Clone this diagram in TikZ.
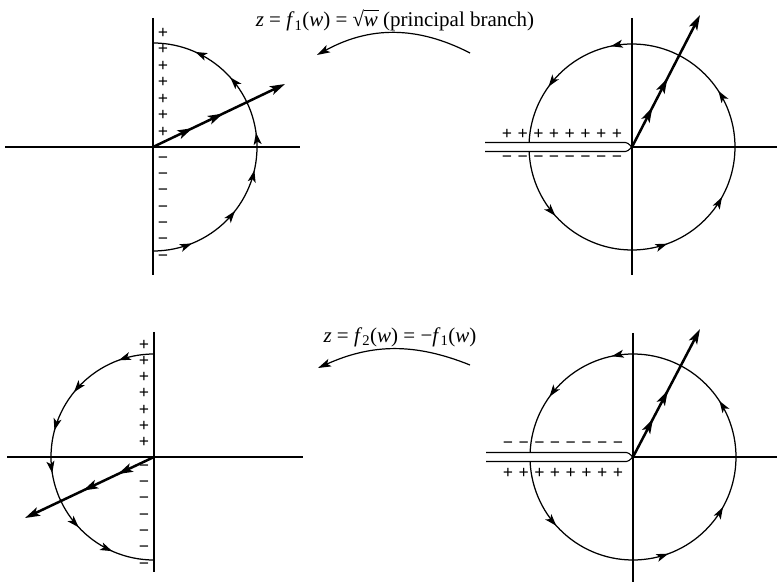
\documentclass[tikz,border=0pt]{standalone}
\usepackage{fontspec}
\setmainfont{Liberation Serif}
\usetikzlibrary{arrows.meta,decorations.markings}
\newcommand\txtsqrt[1]{\mbox{\setbox1=\hbox{√}\setbox0=\hbox{#1}\copy1\kern-0.3pt\rlap{\rule[\dimexpr\ht1-0.9pt\relax]{\dimexpr\wd0+1pt\relax}{0.9pt}}\box0}}
\tikzset{
  axisline/.style={line width=1.1pt},
  contour/.style={line width=1.25pt},
  rayline/.style={line width=2.5pt,-{Stealth[length=15pt,width=9pt,inset=3.5pt]}},
  amark/.style={postaction={decorate,decoration={markings,mark=at position #1 with {\arrow{Stealth[length=12pt,width=8pt,inset=3pt]}}}}},
  rmark/.style={postaction={decorate,decoration={markings,mark=at position #1 with {\arrow{Stealth[length=15pt,width=9pt,inset=3.5pt]}}}}},
  sign/.style={inner sep=0pt,font=\fontsize{18}{18}\selectfont\bfseries},
  lbl/.style={inner sep=0pt,text height=15pt,text depth=5pt,font=\fontsize{21}{25}\selectfont},
  maparrow/.style={line width=1.2pt,-{Stealth[length=13pt,width=8pt,inset=3pt]}}
}
\begin{document}
\begin{tikzpicture}[x=1pt,y=1pt]
\useasboundingbox (0,0) rectangle (777,582);
% centres
\coordinate (A) at (153,435);
\coordinate (B) at (632,435);
\coordinate (C) at (154,125);
\coordinate (D) at (633,125);
% ----- top left -----
\coordinate (Ah1) at (5,435); \coordinate (Ah2) at (300,435);
\coordinate (Av1) at (153,564); \coordinate (Av2) at (153,307);
\draw[axisline] (Ah1) -- (Ah2);
\draw[axisline] (Av1) -- (Av2);
\draw[contour,amark=0.122,amark=0.289,amark=0.428,amark=0.544,amark=0.733,amark=0.867]
  (A) ++(-90:104) arc[start angle=-90,end angle=90,radius=104];
\coordinate (Ar) at (285,498);
\draw[rayline,rmark=0.30,rmark=0.53] (A) -- (Ar);
\foreach \k in {0,...,6}{
  \node[sign] (Ap\k) at (163,549-16.5*\k) {+};
  \node[sign] (Am\k) at (163,422-16.3*\k) {−};
}
% ----- top right -----
\coordinate (Bh2) at (777,435);
\coordinate (Bv1) at (632,564); \coordinate (Bv2) at (632,307);
\draw[axisline] (B) -- (Bh2);
\draw[axisline] (Bv1) -- (Bv2);
\coordinate (Bk1) at (485,439.5); \coordinate (Bk2) at (627,439.5);
\coordinate (Bk3) at (627,430.5); \coordinate (Bk4) at (485,430.5);
\draw[axisline,rounded corners=1.5pt] (Bk1) -- (Bk2) -- (B) -- (Bk3) -- (Bk4);
\draw[contour,amark=0.111,amark=0.303,amark=0.418,amark=0.593,amark=0.787,amark=0.906]
  (B) ++(-177.5:103) arc[start angle=-177.5,end angle=177.5,radius=103];
\coordinate (Br) at (700,567);
\draw[rayline,rmark=0.30,rmark=0.52] (B) -- (Br);
\foreach \k in {0,...,7}{
  \node[sign] (Bp\k) at (507+15.7*\k,448) {+};
  \node[sign] (Bm\k) at (507+15.7*\k,423) {−};
}
% ----- bottom left -----
\coordinate (Ch1) at (7,125); \coordinate (Ch2) at (303,125);
\coordinate (Cv1) at (154,250); \coordinate (Cv2) at (154,10);
\draw[axisline] (Ch1) -- (Ch2);
\draw[axisline] (Cv1) -- (Cv2);
\draw[contour,amark=0.111,amark=0.283,amark=0.417,amark=0.55,amark=0.739,amark=0.867]
  (C) ++(90:103) arc[start angle=90,end angle=270,radius=103];
\coordinate (Cr) at (25,64);
\draw[rayline,rmark=0.28,rmark=0.55] (C) -- (Cr);
\foreach \k in {0,...,6}{
  \node[sign] (Cp\k) at (144,237-16.3*\k) {+};
  \node[sign] (Cm\k) at (144,114-16.3*\k) {−};
}
% ----- bottom right -----
\coordinate (Dh2) at (777,125);
\coordinate (Dv1) at (633,249); \coordinate (Dv2) at (633,0);
\draw[axisline] (D) -- (Dh2);
\draw[axisline] (Dv1) -- (Dv2);
\coordinate (Dk1) at (486,129.5); \coordinate (Dk2) at (628,129.5);
\coordinate (Dk3) at (628,120.5); \coordinate (Dk4) at (486,120.5);
\draw[axisline,rounded corners=1.5pt] (Dk1) -- (Dk2) -- (D) -- (Dk3) -- (Dk4);
\draw[contour,amark=0.111,amark=0.303,amark=0.418,amark=0.593,amark=0.787,amark=0.906]
  (D) ++(-177.5:103) arc[start angle=-177.5,end angle=177.5,radius=103];
\coordinate (Dr) at (700,253);
\draw[rayline,rmark=0.30,rmark=0.52] (D) -- (Dr);
\foreach \k in {0,...,7}{
  \node[sign] (Dm\k) at (508+15.7*\k,137) {−};
  \node[sign] (Dp\k) at (508+15.7*\k,109) {+};
}
% ----- labels and mapping arrows -----
\node[lbl,anchor=base] (L1) at (395,555) {\textit{z} = \textit{f}\textsubscript{1}(\textit{w}) = \txtsqrt{\textit{w}} (principal branch)};
\coordinate (M1s) at (470,529); \coordinate (M1e) at (317,527);
\draw[maparrow] (M1s) to[bend right=28] (M1e);
\node[lbl,anchor=base] (L2) at (400,240) {\textit{z} = \textit{f}\textsubscript{2}(\textit{w}) = −\textit{f}\textsubscript{1}(\textit{w})};
\coordinate (M2s) at (470,217); \coordinate (M2e) at (318,214);
\draw[maparrow] (M2s) to[bend right=23] (M2e);
\end{tikzpicture}
\end{document}
